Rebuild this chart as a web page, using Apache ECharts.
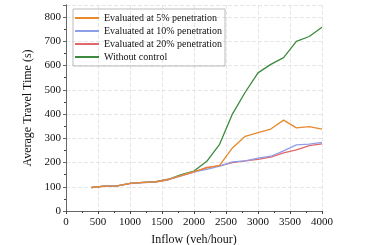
<!DOCTYPE html>
<html><head><meta charset="utf-8">
<script src="https://cdn.jsdelivr.net/npm/echarts@6/dist/echarts.min.js"></script>
<style>html,body{margin:0;padding:0;background:#fff}#c{width:374px;height:245px}</style>
</head><body><div id="c"></div>
<script>
var inflow = [400,600,800,1000,1200,1400,1600,1800,2000,2200,2400,2600,2800,3000,3200,3400,3600,3800,4000];
var pen5  = [97,103,104,114,118,120,130,147,162,178,188,260,308,323,338,375,343,348,338];
var pen10 = [97,103,104,114,117,120,130,146,162,172,185,203,207,218,226,248,273,276,283];
var pen20 = [97,103,104,113,117,119,129,145,160,180,186,200,207,213,222,240,252,270,277];
var noCtrl = [97,103,104,114,118,121,131,150,165,205,275,400,490,570,605,633,700,720,758];
var names = ['Evaluated at 5% penetration','Evaluated at 10% penetration','Evaluated at 20% penetration','Without control'];
var colors = ['#E8892B','#8E9FEA','#E2676A','#3C8A3E'];
function pairs(v){return inflow.map(function(x,i){return [x,v[i]];});}
var font = 'Liberation Serif';
var chart = echarts.init(document.getElementById('c'));
var sers = [pen5,pen10,pen20,noCtrl].map(function(v,i){
  return {name:names[i],type:'line',data:pairs(v),showSymbol:false,symbol:'none',
    lineStyle:{color:colors[i],width:1.3},itemStyle:{color:colors[i]},z:10-i, xAxisIndex:0,yAxisIndex:0};
});
chart.setOption({
  animation:false,
  textStyle:{fontFamily:font},
  grid:{left:66,right:52,top:5,bottom:34,containLabel:false,outerBoundsMode:'none'},
  legend:{left:73,top:9,orient:'vertical',itemWidth:24,itemHeight:2,itemGap:3,
    padding:[4,3,4,2],borderColor:'#bbb',borderWidth:1,
    textStyle:{fontFamily:font,fontSize:10,color:'#111'},icon:'rect',data:names},
  xAxis:[{type:'value',min:0,max:4000,interval:500,name:'Inflow (veh/hour)',nameLocation:'middle',nameGap:23,
    nameTextStyle:{fontFamily:font,fontSize:12,color:'#111'},
    axisLine:{lineStyle:{color:'#444',width:1}},axisTick:{inside:false,length:3,lineStyle:{color:'#444'}},
    minorTick:{show:true,splitNumber:2,length:2},
    axisLabel:{fontFamily:font,fontSize:11,color:'#111',margin:6,formatter:function(v){return String(v);}},
    splitLine:{show:true,lineStyle:{color:'#e6e6e6',type:'dashed'}}},
   {type:'value',position:'top',min:0,max:4000,interval:500,axisLine:{show:true,lineStyle:{color:'#666'}},axisTick:{show:false},axisLabel:{show:false},splitLine:{show:false}}],
  yAxis:[{type:'value',min:0,max:850,interval:100,name:'Average Travel Time (s)',nameLocation:'middle',nameGap:25,
    nameTextStyle:{fontFamily:font,fontSize:12,color:'#111'},
    axisLine:{show:true,lineStyle:{color:'#444',width:1}},axisTick:{show:true,length:3,lineStyle:{color:'#444'}},
    minorTick:{show:true,splitNumber:2,length:2},
    axisLabel:{fontFamily:font,fontSize:11,color:'#111',margin:5,formatter:function(v){return v<=800?String(v):'';}},
    splitLine:{show:true,lineStyle:{color:'#e6e6e6',type:'dashed'}}},
   {type:'value',position:'right',min:0,max:850,interval:100,axisLine:{show:true,lineStyle:{color:'#666'}},
    axisTick:{show:true,inside:true,length:3,lineStyle:{color:'#666'}},axisLabel:{show:false},splitLine:{show:false}}],
  series:sers
});
</script></body></html>
